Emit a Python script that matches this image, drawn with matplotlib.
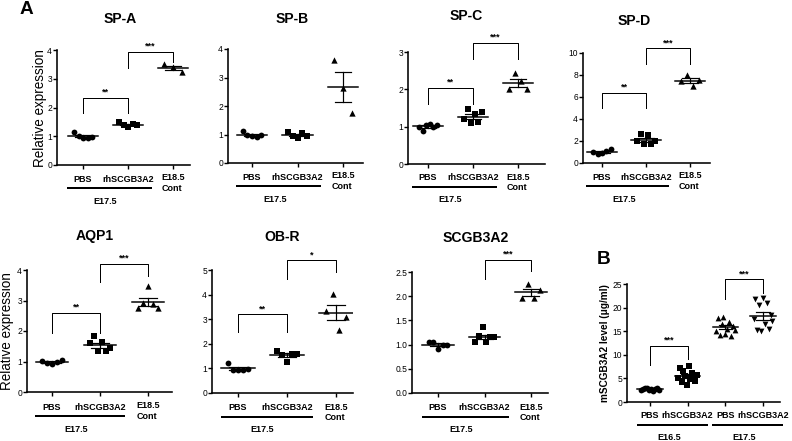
import numpy as np
import matplotlib
matplotlib.use('Agg')
import matplotlib.pyplot as plt
from matplotlib.transforms import offset_copy

plt.rcParams['font.family'] = ['Liberation Sans', 'DejaVu Sans']

W, H = 792, 441

# ---- data ----
groups = ['PBS', 'rhSCGB3A2', 'E18.5\nCont']

spa_pbs = [1.15, 1.0, 0.95, 0.95, 0.97]
spa_rh = [1.48, 1.4, 1.32, 1.42, 1.38]
spa_e185 = [3.5, 3.4, 3.22]

spb_pbs = [1.12, 1.0, 0.95, 0.92, 1.0]
spb_rh = [1.1, 0.95, 0.88, 1.05, 0.93]
spb_e185 = [3.62, 2.62, 1.75]

spc_pbs = [0.98, 0.88, 1.05, 1.08, 1.0, 1.05]
spc_rh = [1.2, 1.48, 1.1, 1.35, 1.12, 1.38]
spc_e185 = [2.0, 2.45, 2.22, 2.0]

spd_pbs = [1.02, 0.8, 0.9, 1.05, 1.23]
spd_rh = [2.0, 2.6, 1.7, 2.55, 1.75, 2.0]
spd_e185 = [7.45, 8.0, 7.0, 7.55]

aqp_pbs = [1.03, 0.95, 0.92, 1.0, 1.05]
aqp_rh = [1.6, 1.84, 1.33, 1.65, 1.36, 1.45]
aqp_e185 = [2.75, 2.92, 3.48, 2.9, 2.75]

obr_pbs = [1.22, 0.95, 0.93, 0.95, 0.98]
obr_rh = [1.72, 1.55, 1.27, 1.6, 1.58]
obr_e185 = [3.35, 4.02, 2.58, 3.1]

scg_pbs = [1.05, 1.06, 0.9, 1.0, 0.99]
scg_rh = [1.05, 1.18, 1.36, 1.05, 1.15, 1.16]
scg_e185 = [1.97, 2.25, 1.97, 2.13]

b_groups = ['PBS', 'rhSCGB3A2', 'PBS', 'rhSCGB3A2']
b_pbs165 = [2.5, 2.7, 2.9, 3.0, 2.6, 2.8, 2.4, 2.7, 2.9, 2.6]
b_rh165 = [5.0, 7.2, 4.2, 6.5, 5.5, 3.5, 7.6, 4.8, 6.2, 5.3, 4.5, 5.8]
b_pbs175 = [15.0, 17.8, 14.2, 16.5, 18.0, 14.5, 15.5, 17.0, 14.0, 16.0, 15.2]
b_rh175 = [17.5, 21.8, 15.2, 20.5, 15.0, 22.0, 16.5, 21.0, 15.5, 18.5, 17.2]

# brackets: (x1, x2, left leg bottom, top, right leg bottom, stars)
spa_sig = [(0, 1, 1.8, 2.33, 1.8, '**'), (1, 2, 3.37, 3.93, 3.6, '***')]
spc_sig = [(0, 1, 1.6, 2.04, 1.6, '**'), (1, 2, 2.82, 3.25, 2.82, '***')]
spd_sig = [(0, 1, 5.0, 6.4, 5.0, '**'), (1, 2, 9.0, 10.45, 9.0, '***')]
aqp_sig = [(0, 1, 1.95, 2.6, 1.95, '**'), (1, 2, 3.6, 4.2, 3.8, '***')]
obr_sig = [(0, 1, 2.5, 3.2, 2.5, '**'), (1, 2, 4.65, 5.4, 4.9, '*')]
scg_sig = [(1, 2, 2.35, 2.75, 2.52, '***')]
b_sig = [(0, 1, 7.8, 11.9, 9.2, '***'), (2, 3, 21.9, 26.0, 23.0, '***')]

fig = plt.figure(figsize=(W / 72, H / 72), dpi=72)


def make_ax(x0, x1, ytop, ybot, cats):
    ax = fig.add_axes([x0 / W, 1 - ybot / H, (x1 - x0) / W, (ybot - ytop) / H])
    # pick xlim so the categories land on the right pixel columns
    span = (cats[-1] - cats[0]) / (len(cats) - 1)
    ax.set_xlim(-(cats[0] - x0) / span, len(cats) - 1 + (x1 - cats[-1]) / span)
    ax.spines['top'].set_visible(False)
    ax.spines['right'].set_visible(False)
    for s in ['left', 'bottom']:
        ax.spines[s].set_linewidth(1.6)
    ax.tick_params(axis='both', direction='out', length=4, width=1.4,
                   labelsize=8.5, pad=1)
    ax.set_xticks(range(len(cats)))
    ax.set_xticklabels([])
    return ax


def dots(ax, x, vals, marker, ms, w=0.2):
    n = len(vals)
    off = np.linspace(-w, w, n) if n > 1 else np.zeros(1)
    ax.scatter(x + off, vals, marker=marker, s=ms ** 2, c='k', linewidths=0,
               zorder=3, clip_on=False)
    m = np.mean(vals)
    sem = np.std(vals, ddof=1) / np.sqrt(n)
    ax.plot([x - 0.34, x + 0.34], [m, m], color='k', lw=1.5, zorder=4)
    ax.plot([x, x], [m - sem, m + sem], color='k', lw=1.2, zorder=4)
    for v in (m - sem, m + sem):
        ax.plot([x - 0.18, x + 0.18], [v, v], color='k', lw=1.2, zorder=4)


def brackets(ax, sig):
    for x1, x2, yl, yt, yr, lab in sig:
        ax.plot([x1, x1, x2, x2], [yl, yt, yt, yr], color='k', lw=1,
                clip_on=False)
        ax.annotate(lab, xy=((x1 + x2) / 2, yt), xytext=(0, 1),
                    textcoords='offset points', ha='center', va='bottom',
                    fontsize=9, fontweight='bold', annotation_clip=False)


def below(ax, labels, under, dy=14):
    tr = ax.get_xaxis_transform()
    for i, lab in enumerate(labels):
        if '\n' in lab:
            ax.annotate(lab, xy=(i, 0), xycoords=tr, xytext=(0, -dy + 5.5),
                        textcoords='offset points', ha='center', va='top',
                        fontsize=9, fontweight='bold', multialignment='left',
                        linespacing=1.15, annotation_clip=False)
        else:
            ax.annotate(lab, xy=(i, 0), xycoords=tr, xytext=(0, -dy),
                        textcoords='offset points', ha='center', va='center',
                        fontsize=9, fontweight='bold', annotation_clip=False)
    for a, b, name in under:
        lt = offset_copy(tr, fig=fig, y=-(dy + 9), units='points')
        ax.plot([a - 0.33, b + 0.5], [0, 0], color='k', lw=2, transform=lt,
                clip_on=False)
        ax.annotate(name, xy=((a + b) / 2, 0), xycoords=tr,
                    xytext=(0, -(dy + 22)), textcoords='offset points',
                    ha='center', va='center', fontsize=9, fontweight='bold',
                    annotation_clip=False)


def panel(box, cats, sets, ylim, yticks, sig, title, tpos, fmt=None, dy=14):
    ax = make_ax(*box, cats)
    marks = ['o', 's', '^']
    sizes = [5.8, 5.8, 6.3]
    for i, vals in enumerate(sets):
        dots(ax, i, vals, marks[i], sizes[i])
    ax.set_ylim(*ylim)
    ax.set_yticks(yticks)
    if fmt:
        ax.set_yticklabels([fmt % t for t in yticks])
    brackets(ax, sig)
    below(ax, groups, [(0, 1, 'E17.5')], dy=dy)
    fig.text(tpos[0] / W, 1 - tpos[1] / H, title, ha='center', va='center',
             fontsize=14, fontweight='bold')
    return ax


panel((57, 190, 50, 165), [83, 128, 173], [spa_pbs, spa_rh, spa_e185],
      (0, 4), range(0, 5), spa_sig, 'SP-A', (120, 19))
panel((228, 363, 49, 163), [252, 297, 343], [spb_pbs, spb_rh, spb_e185],
      (0, 4), range(0, 5), [], 'SP-B', (292, 19))
panel((408, 545, 52, 164), [428, 473, 518], [spc_pbs, spc_rh, spc_e185],
      (0, 3), range(0, 4), spc_sig, 'SP-C', (466, 16))
panel((583, 710, 53, 163), [602, 645, 690], [spd_pbs, spd_rh, spd_e185],
      (0, 10), range(0, 11, 2), spd_sig, 'SP-D', (634, 21))
panel((27, 172, 270, 392), [52, 100, 148], [aqp_pbs, aqp_rh, aqp_e185],
      (0, 4), range(0, 5), aqp_sig, 'AQP1', (95, 236), dy=15)
panel((212, 353, 270, 393), [238, 287, 336], [obr_pbs, obr_rh, obr_e185],
      (0, 5), range(0, 6), obr_sig, 'OB-R', (282, 237), dy=15)
panel((412, 548, 272, 393), [438, 486, 531], [scg_pbs, scg_rh, scg_e185],
      (0, 2.5), [0, 0.5, 1.0, 1.5, 2.0, 2.5], scg_sig, 'SCGB3A2', (476, 238),
      fmt='%.1f', dy=15)

# panel B
axb = make_ax(627, 780, 284, 402, [650, 687, 725, 763])
for i, (vals, mk) in enumerate(zip([b_pbs165, b_rh165, b_pbs175, b_rh175],
                                   ['o', 's', '^', 'v'])):
    dots(axb, i, vals, mk, 5.8, w=0.25)
axb.set_ylim(0, 25)
axb.set_yticks(range(0, 26, 5))
brackets(axb, b_sig)
below(axb, b_groups, [(0, 1, 'E16.5'), (2, 3, 'E17.5')])
axb.set_ylabel('mSCGB3A2 level (\u03bcg/ml)', fontsize=10, fontweight='bold',
               labelpad=3)

fig.text(40 / W, 1 - 108 / H, 'Relative expression', rotation=90,
         ha='center', va='center', fontsize=13.5)
fig.text(7 / W, 1 - 331 / H, 'Relative expression', rotation=90,
         ha='center', va='center', fontsize=13.5)
fig.text(20 / W, 1 - 10 / H, 'A', ha='left', va='center', fontsize=19,
         fontweight='bold')
fig.text(597 / W, 1 - 260 / H, 'B', ha='left', va='center', fontsize=19,
         fontweight='bold')

fig.savefig('out.png', dpi=72, facecolor='white')
